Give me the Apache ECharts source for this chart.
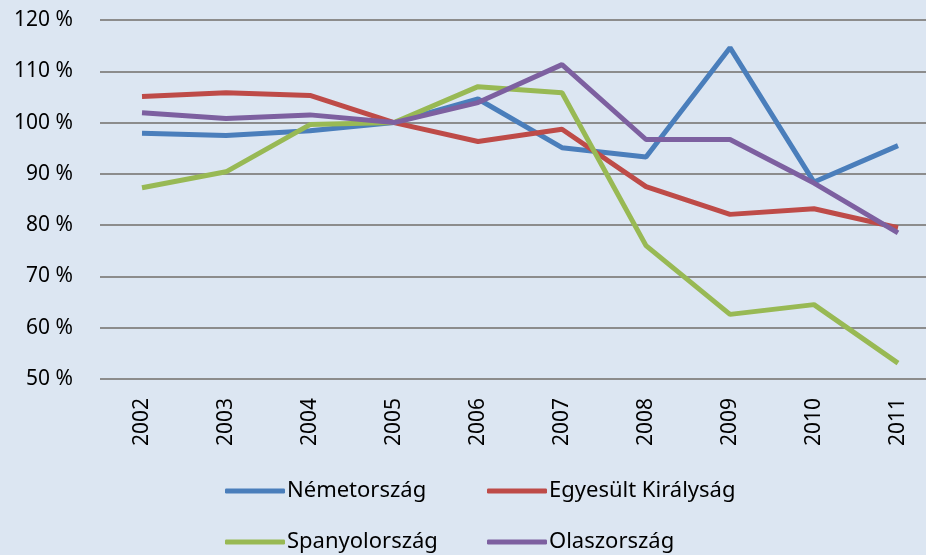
<!DOCTYPE html>
<html>
<head>
<meta charset="utf-8">
<script src="https://cdn.jsdelivr.net/npm/echarts@6/dist/echarts.min.js"></script>
<style>
  html, body { margin: 0; padding: 0; background: #dce6f2; overflow: hidden; }
  #chart { width: 940px; height: 555px; }
</style>
</head>
<body>
<div id="chart"></div>
<script>
// évek és országonkénti értékek (%)
const years = ["2002", "2003", "2004", "2005", "2006", "2007", "2008", "2009", "2010", "2011"];
const nemetorszag = [97.9, 97.5, 98.4, 100, 104.6, 95.1, 93.3, 114.6, 88.4, 95.5];
const egyesultKiralysag = [105.1, 105.8, 105.3, 100, 96.3, 98.7, 87.5, 82.1, 83.2, 79.5];
const spanyolorszag = [87.3, 90.4, 99.6, 100, 107.0, 105.8, 76.0, 62.6, 64.5, 53.1];
const olaszorszag = [101.9, 100.8, 101.5, 100, 103.9, 111.3, 96.7, 96.7, 88.2, 78.5];
const yTicks = { min: 50, max: 120, step: 10 };

const font = "Noto Sans";
const chart = echarts.init(document.getElementById("chart"));

function legendAt(name, left, top) {
  return {
    data: [name],
    left: left,
    top: top,
    icon: "roundRect",
    itemWidth: 60,
    itemHeight: 5,
    itemGap: 0,
    padding: 0,
    textStyle: { fontFamily: font, fontSize: 22, color: "#000", padding: [0, 0, 0, -3] },
  };
}

function line(name, data, color) {
  return {
    name: name,
    type: "line",
    data: data,
    symbol: "none",
    lineStyle: { width: 5, color: color },
    itemStyle: { color: color },
  };
}

chart.setOption({
  backgroundColor: "#dce6f2",
  animation: false,
  grid: { left: 100, right: 0, top: 20, bottom: 176 },
  legend: [
    legendAt("Németország", 225, 480),
    legendAt("Egyesült Királyság", 487, 480),
    legendAt("Spanyolország", 225, 531),
    legendAt("Olaszország", 487, 531),
  ],
  xAxis: {
    type: "category",
    data: years,
    boundaryGap: true,
    axisLine: { show: false },
    axisTick: { show: false },
    axisLabel: { rotate: 90, margin: 19, fontFamily: font, fontSize: 21, color: "#000" },
  },
  yAxis: {
    type: "value",
    min: yTicks.min,
    max: yTicks.max,
    interval: yTicks.step,
    axisLine: { show: false },
    axisTick: { show: false },
    splitLine: { lineStyle: { color: "#8c8c8c", width: 2 } },
    axisLabel: { formatter: "{value} %", margin: 27, fontFamily: font, fontSize: 21, color: "#000" },
  },
  series: [
    line("Németország", nemetorszag, "#4a7ebb"),
    line("Egyesült Királyság", egyesultKiralysag, "#be4b48"),
    line("Spanyolország", spanyolorszag, "#98b954"),
    line("Olaszország", olaszorszag, "#7d60a0"),
  ],
});
</script>
</body>
</html>
